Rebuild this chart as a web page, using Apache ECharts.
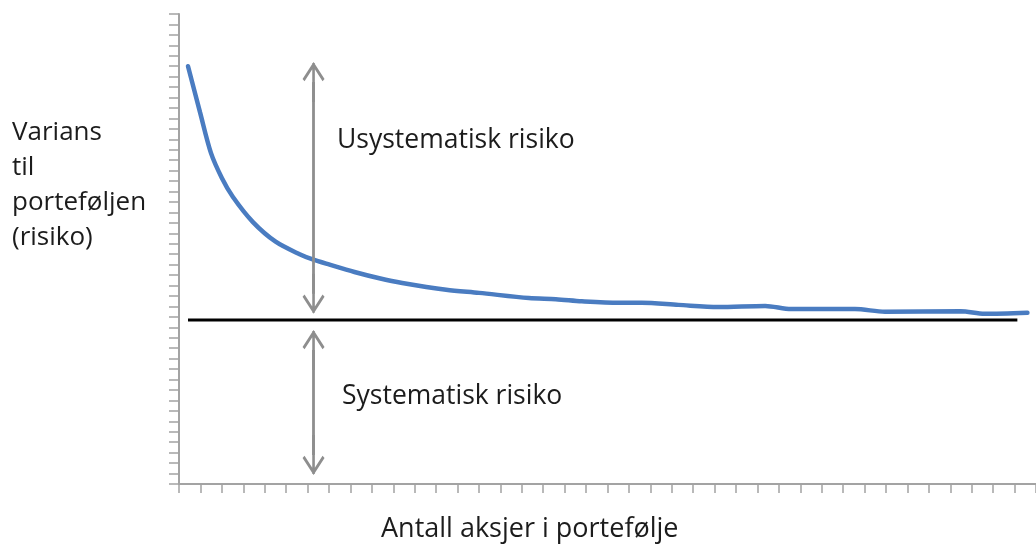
<!DOCTYPE html>
<html>
<head>
<meta charset="utf-8">
<script src="https://cdn.jsdelivr.net/npm/echarts@6/dist/echarts.min.js"></script>
<style>
  html, body { margin: 0; padding: 0; background: #fff; }
  #diversification { width: 1036px; height: 544px; }
</style>
</head>
<body>
<div id="diversification"></div>
<script>
// antall aksjer (x) og varians (y), lest av bildet
const stockCount = [0.42, 0.98, 1.49, 2.00, 2.51, 3.44, 4.51, 5.63, 6.24, 7.03, 8.19, 9.35,
  10.42, 12.47, 14.01, 16.33, 17.59, 18.80, 20.52, 21.59, 23.31, 25.17, 27.36, 28.57,
  31.55, 32.95, 36.48, 37.60, 39.60];
const variance = [40.0, 35.6, 31.7, 29.3, 27.5, 25.1, 23.2, 22.0, 21.5, 21.0, 20.3, 19.7,
  19.25, 18.6, 18.3, 17.8, 17.7, 17.5, 17.35, 17.35, 17.15, 16.95, 17.05, 16.75,
  16.75, 16.5, 16.55, 16.3, 16.4];

// systematisk risiko-nivå (svart linje)
const systematicLevel = 15.7;
const systematicRange = [0.42, 39.13];

// piler: x-posisjon og spissene (y)
const arrowX = 6.28;
const upperArrow = [40.4, 16.3];
const lowerArrow = [14.75, 0.86];

const labels = {
  unsystematic: 'Usystematisk risiko',
  systematic: 'Systematisk risiko',
  xName: 'Antall aksjer i portefølje',
  yName: 'Varians\ntil\nporteføljen\n(risiko)'
};

const chart = echarts.init(document.getElementById('diversification'));

const axisGrey = '#a3a3a3';
const arrowGrey = '#8e8e8e';
const textColor = '#1c1c1c';
const font = '"Open Sans", "Noto Sans", sans-serif';

// pilhode med skaft, symbolet sentreres på endepunktet
const arrowHead = 'path://M11,0 L22,17 L20,19.2 L11,5.2 L2,19.2 L0,17 Z M9.7,1 L12.3,1 L12.3,40 L9.7,40 Z';
const headPx = 20; // halv symbolhøyde i piksler
const yPxPerUnit = 470 / 45;
const shift = headPx / yPxPerUnit;

function arrowLine(tips) {
  return [
    { coord: [arrowX, tips[0] - shift] },
    { coord: [arrowX, tips[1] + shift] }
  ];
}

const option = {
  animation: false,
  grid: { left: 179, top: 14, right: -3, bottom: 60 },
  xAxis: {
    type: 'value',
    min: 0,
    max: 40,
    interval: 1,
    axisLine: { show: true, onZero: false, lineStyle: { color: axisGrey, width: 2 } },
    axisTick: { show: true, length: 9, lineStyle: { color: axisGrey, width: 1.5 } },
    axisLabel: { show: false },
    splitLine: { show: false }
  },
  yAxis: {
    type: 'value',
    min: 0,
    max: 45,
    interval: 1,
    axisLine: { show: true, lineStyle: { color: axisGrey, width: 2 } },
    axisTick: { show: true, length: 10, lineStyle: { color: axisGrey, width: 1.5 } },
    axisLabel: { show: false },
    splitLine: { show: false }
  },
  series: [
    {
      name: 'systematisk',
      type: 'line',
      data: [[systematicRange[0], systematicLevel], [systematicRange[1], systematicLevel]],
      symbol: 'none',
      lineStyle: { color: '#000', width: 3 },
      z: 3
    },
    {
      name: 'varians',
      type: 'line',
      data: stockCount.map((x, i) => [x, variance[i]]),
      smooth: 0.3,
      symbol: 'none',
      lineStyle: { color: '#4a7cc1', width: 4.5, cap: 'round' },
      z: 2,
      markLine: {
        silent: true,
        symbol: [arrowHead, arrowHead],
        symbolSize: [22, 40],
        label: { show: false },
        lineStyle: { color: arrowGrey, width: 2.8, type: 'solid' },
        emphasis: { disabled: true },
        data: [arrowLine(upperArrow), arrowLine(lowerArrow)]
      }
    }
  ],
  graphic: [
    {
      type: 'text', left: 337, top: 127,
      style: { text: labels.unsystematic, font: '26.5px ' + font, fill: textColor }
    },
    {
      type: 'text', left: 342, top: 383,
      style: { text: labels.systematic, font: '26.5px ' + font, fill: textColor }
    },
    {
      type: 'text', left: 12, top: 115,
      style: { text: labels.yName, font: '26px ' + font, fill: textColor, lineHeight: 35 }
    },
    {
      type: 'text', left: 381, top: 516,
      style: { text: labels.xName, font: '27px ' + font, fill: textColor }
    }
  ]
};

chart.setOption(option);
</script>
</body>
</html>
